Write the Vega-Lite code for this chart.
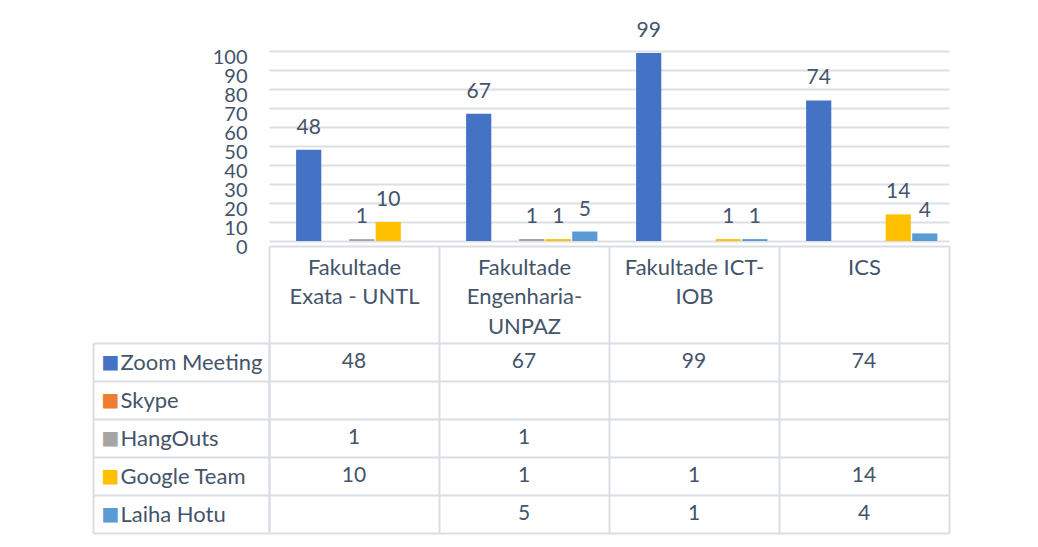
{
  "$schema": "https://vega.github.io/schema/vega-lite/v6.json",
  "background": "white",
  "padding": {"left": 92, "top": 19, "right": 5, "bottom": 5},
  "spacing": 102,
  "bounds": "flush",
  "config": {
    "font": "Lato",
    "view": {"stroke": null},
    "axis": {"labelFont": "Lato", "titleFont": "Lato"},
    "text": {"font": "Lato"}
  },
  "datasets": {
    "usage": [
      {"faculty": "Fakultade Exata - UNTL", "app": "Zoom Meeting", "users": 48},
      {"faculty": "Fakultade Exata - UNTL", "app": "HangOuts", "users": 1},
      {"faculty": "Fakultade Exata - UNTL", "app": "Google Team", "users": 10},
      {"faculty": "Fakultade Engenharia-UNPAZ", "app": "Zoom Meeting", "users": 67},
      {"faculty": "Fakultade Engenharia-UNPAZ", "app": "HangOuts", "users": 1},
      {"faculty": "Fakultade Engenharia-UNPAZ", "app": "Google Team", "users": 1},
      {"faculty": "Fakultade Engenharia-UNPAZ", "app": "Laiha Hotu", "users": 5},
      {"faculty": "Fakultade ICT-IOB", "app": "Zoom Meeting", "users": 99},
      {"faculty": "Fakultade ICT-IOB", "app": "Google Team", "users": 1},
      {"faculty": "Fakultade ICT-IOB", "app": "Laiha Hotu", "users": 1},
      {"faculty": "ICS", "app": "Zoom Meeting", "users": 74},
      {"faculty": "ICS", "app": "Google Team", "users": 14},
      {"faculty": "ICS", "app": "Laiha Hotu", "users": 4}
    ]
  },
  "vconcat": [
    {
      "width": 680,
      "height": 190,
      "data": {"name": "usage"},
      "encoding": {
        "x": {
          "field": "faculty",
          "type": "nominal",
          "sort": ["Fakultade Exata - UNTL", "Fakultade Engenharia-UNPAZ", "Fakultade ICT-IOB", "ICS"],
          "scale": {"domain": ["Fakultade Exata - UNTL", "Fakultade Engenharia-UNPAZ", "Fakultade ICT-IOB", "ICS"], "paddingInner": 0, "paddingOuter": 0},
          "axis": {
            "title": null,
            "orient": "bottom",
            "offset": 5,
            "domainColor": "#D9DEE6",
            "domainWidth": 2,
            "ticks": true,
            "tickBand": "extent",
            "tickSize": 97,
            "tickColor": "#D9DEE6",
            "tickWidth": 2,
            "labelPadding": -86,
            "labelBaseline": "top",
            "labelLineHeight": 29.5,
            "labelFontSize": 22,
            "labelColor": "#44546A",
            "labelAngle": 0,
            "labelLimit": 0,
            "labelExpr": "datum.value == 'Fakultade Exata - UNTL' ? ['Fakultade', 'Exata - UNTL'] : datum.value == 'Fakultade Engenharia-UNPAZ' ? ['Fakultade', 'Engenharia-', 'UNPAZ'] : datum.value == 'Fakultade ICT-IOB' ? ['Fakultade ICT-', 'IOB'] : datum.value",
            "grid": false
          }
        },
        "xOffset": {
          "field": "app",
          "type": "nominal",
          "scale": {"domain": ["Zoom Meeting", "Skype", "HangOuts", "Google Team", "Laiha Hotu"], "paddingInner": 0.05, "paddingOuter": 0.73, "align": 0.7}
        },
        "y": {
          "field": "users",
          "type": "quantitative",
          "scale": {"domain": [0, 100], "nice": false},
          "axis": {
            "title": null,
            "values": [0, 10, 20, 30, 40, 50, 60, 70, 80, 90, 100],
            "domain": false,
            "ticks": false,
            "labelPadding": 22,
            "labelOffset": 6,
            "labelFontSize": 20,
            "labelColor": "#44546A",
            "labelOverlap": false,
            "gridColor": "#DCE0E6",
            "gridWidth": 2
          }
        }
      },
      "layer": [
        {
          "mark": {"type": "bar"},
          "encoding": {
            "color": {
              "field": "app",
              "type": "nominal",
              "scale": {"domain": ["Zoom Meeting", "Skype", "HangOuts", "Google Team", "Laiha Hotu"], "range": ["#4472C4", "#ED7D31", "#A5A5A5", "#FFC000", "#5B9BD5"]},
              "legend": null
            }
          }
        },
        {
          "mark": {"type": "text", "baseline": "bottom", "dy": -12, "fontSize": 21, "color": "#44546A"},
          "encoding": {"text": {"field": "users", "type": "quantitative"}}
        }
      ]
    },
    {
      "width": 680,
      "height": 190,
      "data": {"name": "usage"},
      "encoding": {
        "x": {
          "field": "faculty",
          "type": "nominal",
          "scale": {"domain": ["Fakultade Exata - UNTL", "Fakultade Engenharia-UNPAZ", "Fakultade ICT-IOB", "ICS"], "paddingInner": 0, "paddingOuter": 0},
          "axis": {
            "title": null,
            "domain": false,
            "ticks": false,
            "labels": false,
            "grid": true,
            "tickBand": "extent",
            "gridColor": "#D9DEE6",
            "gridWidth": 2
          }
        }
      },
      "layer": [
        {
          "mark": {"type": "text", "fontSize": 21, "color": "#44546A"},
          "encoding": {
            "y": {
              "field": "app",
              "type": "nominal",
              "scale": {"domain": ["Zoom Meeting", "Skype", "HangOuts", "Google Team", "Laiha Hotu"], "paddingInner": 0, "paddingOuter": 0},
              "axis": {
                "orient": "left",
                "title": null,
                "domain": true,
                "domainColor": "#D9DEE6",
                "domainWidth": 2,
                "ticks": true,
                "tickBand": "extent",
                "tickSize": 176,
                "tickColor": "#D9DEE6",
                "tickWidth": 2,
                "grid": true,
                "gridColor": "#D9DEE6",
                "gridWidth": 2,
                "labelAlign": "left",
                "labelPadding": -27,
                "labelFontSize": 22,
                "labelColor": "#44546A",
                "labelLimit": 0
              }
            },
            "text": {"field": "users", "type": "quantitative"}
          }
        },
        {
          "mark": {"type": "rect", "opacity": 0},
          "encoding": {
            "y": {
              "field": "app",
              "type": "nominal",
              "axis": {
                "orient": "left",
                "title": null,
                "offset": 176,
                "domain": true,
                "domainColor": "#D9DEE6",
                "domainWidth": 2,
                "ticks": false,
                "grid": false,
                "labelAlign": "left",
                "labelPadding": -8,
                "labelExpr": "'■'",
                "labelFont": "DejaVu Sans",
                "labelFontSize": 19,
                "labelColor": {
                  "condition": [
                    {"test": "datum.value === 'Zoom Meeting'", "value": "#4472C4"},
                    {"test": "datum.value === 'Skype'", "value": "#ED7D31"},
                    {"test": "datum.value === 'HangOuts'", "value": "#A5A5A5"},
                    {"test": "datum.value === 'Google Team'", "value": "#FFC000"}
                  ],
                  "value": "#5B9BD5"
                }
              }
            }
          }
        }
      ],
      "resolve": {"axis": {"y": "independent"}}
    }
  ]
}
